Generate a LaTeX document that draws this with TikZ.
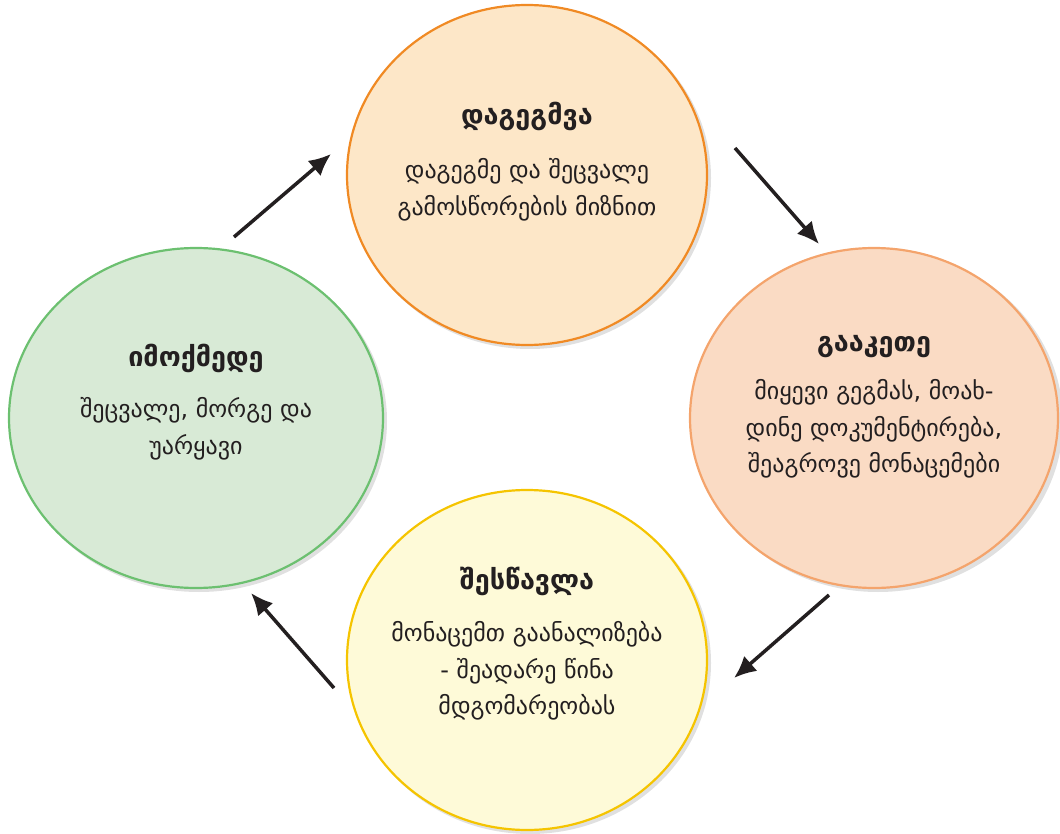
\documentclass[tikz,border=0pt]{standalone}
\usepackage{fontspec}
\setmainfont{DejaVu Sans}
\usetikzlibrary{shapes.geometric,arrows.meta}
\definecolor{c1fill}{HTML}{FDE7C8}
\definecolor{c1line}{HTML}{F08A24}
\definecolor{c2fill}{HTML}{FADBC4}
\definecolor{c2line}{HTML}{F4A46C}
\definecolor{c3fill}{HTML}{FEFAD8}
\definecolor{c3line}{HTML}{F5C400}
\definecolor{c4fill}{HTML}{D8EAD6}
\definecolor{c4line}{HTML}{6CC070}
\definecolor{txt}{HTML}{231F20}
\tikzset{
  blob/.style={ellipse, draw=#1line, fill=#1fill, line width=2.2pt, inner sep=0pt},
  shade blob/.style={ellipse, fill=black, opacity=0.12, inner sep=0pt},
  ttl/.style={font=\fontsize{27}{30}\selectfont\bfseries, text=txt, anchor=base},
  body/.style={font=\fontsize{24}{36.5}\selectfont, text=txt, align=center, anchor=north},
  flow/.style={line width=3.5pt, draw=txt, -{Latex[length=22pt,width=20pt]}}
}
\begin{document}
\begin{tikzpicture}[x=1pt,y=-1pt]
\useasboundingbox (0,0) rectangle (1060,834);
% shadows
\node[shade blob, minimum width=362pt, minimum height=342pt] at (530,178) {};
\node[shade blob, minimum width=370pt, minimum height=342pt] at (878,421) {};
\node[shade blob, minimum width=362pt, minimum height=342pt] at (530,663) {};
\node[shade blob, minimum width=376pt, minimum height=342pt] at (199,421) {};
% circles
\node[blob=c1, minimum width=360pt, minimum height=340pt] (plan) at (527,175) {};
\node[blob=c2, minimum width=368pt, minimum height=340pt] (do) at (874,418) {};
\node[blob=c3, minimum width=360pt, minimum height=340pt] (study) at (527,660) {};
\node[blob=c4, minimum width=374pt, minimum height=340pt] (act) at (196,418) {};
% texts
\node[ttl] (plant) at (527,125) {დაგეგმვა};
\node[body] (planb) at (527,155) {დაგეგმე და შეცვალე\\გამოსწორების მიზნით};
\node[ttl] (dot) at (874,351) {გააკეთე};
\node[body] (dob) at (874,376) {მიყევი გეგმას, მოახ-\\დინე დოკუმენტირება,\\შეაგროვე მონაცემები};
\node[ttl] (studyt) at (527,589) {შესწავლა};
\node[body] (studyb) at (527,618) {მონაცემთ გაანალიზება\\- შეადარე წინა\\მდგომარეობას};
\node[ttl] (actt) at (196,366) {იმოქმედე};
\node[body] (actb) at (196,394) {შეცვალე, მორგე და\\უარყავი};
% arrows
\coordinate (a1s) at (234,237); \coordinate (a1e) at (331,154);
\coordinate (a2s) at (735,148); \coordinate (a2e) at (819,244);
\coordinate (a3s) at (829,595); \coordinate (a3e) at (734,678);
\coordinate (a4s) at (334,688); \coordinate (a4e) at (251,593);
\draw[flow] (a1s) -- (a1e);
\draw[flow] (a2s) -- (a2e);
\draw[flow] (a3s) -- (a3e);
\draw[flow] (a4s) -- (a4e);
\end{tikzpicture}
\end{document}
